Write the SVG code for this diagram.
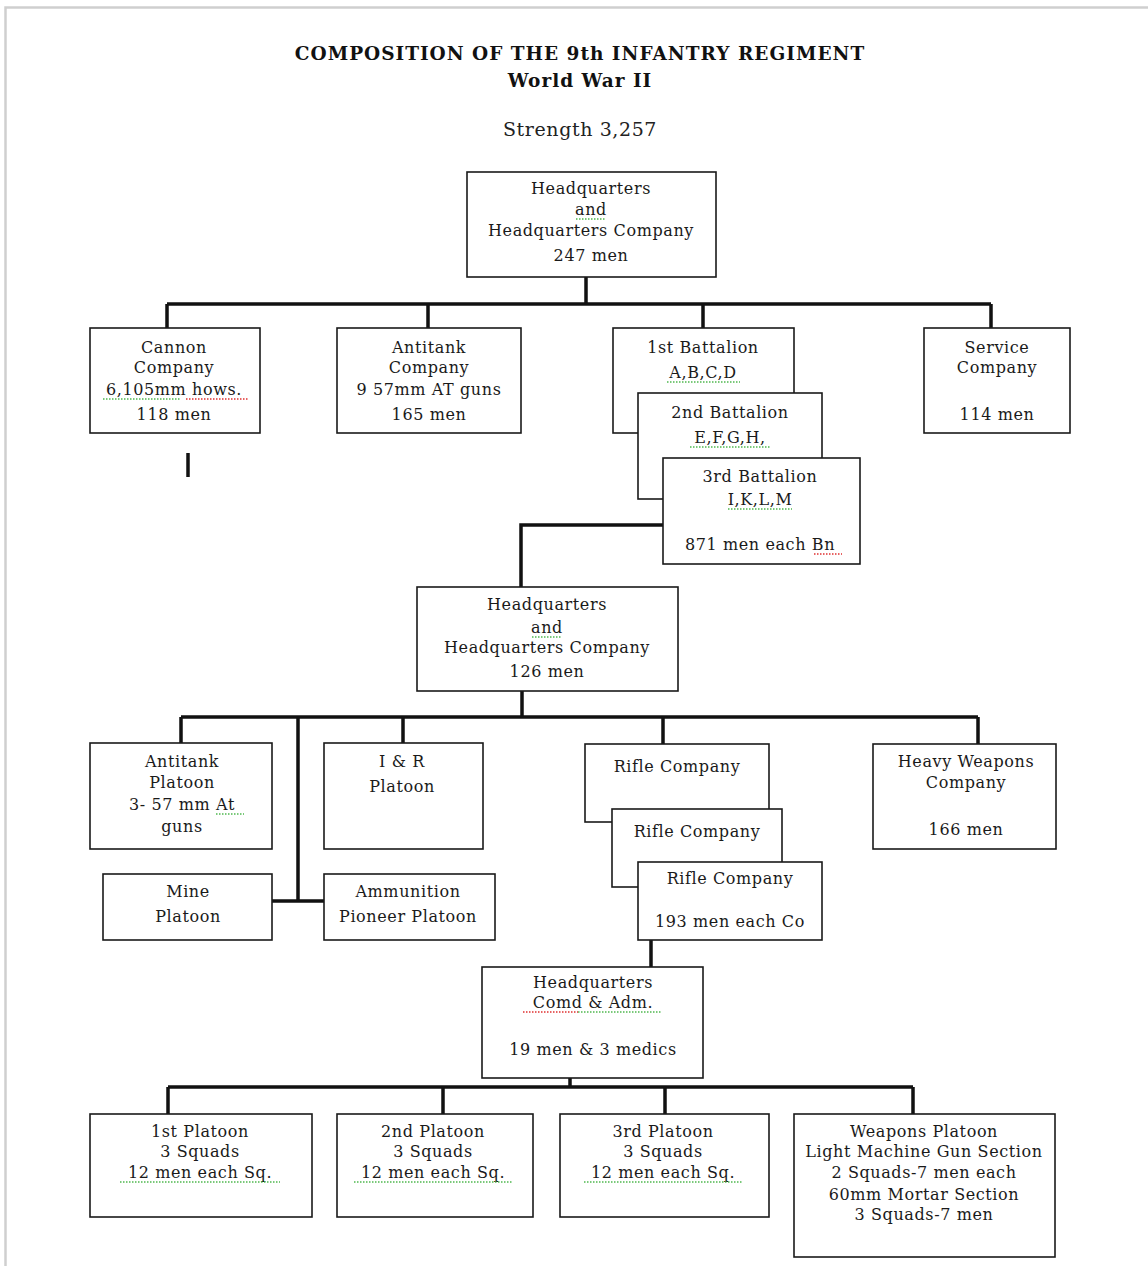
<svg xmlns="http://www.w3.org/2000/svg" width="1148" height="1266" viewBox="0 0 1148 1266">
<style>
.box{fill:#fff;stroke:#1a1a1a;stroke-width:1.6}
.t{font-family:"DejaVu Serif","Liberation Serif",serif;font-size:16px;letter-spacing:0.6px;fill:#1a1a1a;text-anchor:middle}
.title{font-family:"DejaVu Serif","Liberation Serif",serif;font-size:18.5px;letter-spacing:1px;font-weight:bold;fill:#111;text-anchor:middle}
.sub{font-family:"DejaVu Serif","Liberation Serif",serif;font-size:19px;letter-spacing:0.6px;fill:#222;text-anchor:middle}
.c{fill:none;stroke:#111;stroke-width:3.5}
.g{fill:none;stroke:#4fb84f;stroke-width:1.3;stroke-dasharray:1.5 1.5}
.r{fill:none;stroke:#e03030;stroke-width:1.3;stroke-dasharray:1.5 1.5}
</style>
<rect width="1148" height="1266" fill="#fff"/>
<path d="M5.5 1266 V7.5 H1148" fill="none" stroke="#cfcfcf" stroke-width="2.5"/>
<g id="title">
<text class="title" x="580" y="60">COMPOSITION OF THE 9th INFANTRY REGIMENT</text>
<text class="title" x="580" y="87">World War II</text>
<text class="sub" x="580" y="136">Strength 3,257</text>
</g>
<g id="connectors">
<path class="c" d="M586 277 V304 M167 304 H991 M167 304 V328 M428 304 V328 M703 304 V328 M991 304 V328"/>
<path class="c" d="M188 453 V477"/>
<path class="c" d="M663 525 H521 V588"/>
<path class="c" d="M522 691 V717 M181 717 H978 M181 717 V743 M403 717 V743 M663 717 V744 M978 717 V744 M298 717 V901 M272 901 H324"/>
<path class="c" d="M651 940 V967"/>
<path class="c" d="M570 1078 V1087 M168 1087 H913 M168 1087 V1114 M443 1087 V1114 M665 1087 V1114 M913 1087 V1114"/>
</g>
<g id="hq-regiment">
<rect class="box" x="467" y="172" width="249" height="105"/>
<text class="t" x="591" y="194">Headquarters</text>
<text class="t" x="591" y="215">and</text>
<text class="t" x="591" y="236">Headquarters Company</text>
<text class="t" x="591" y="261">247 men</text>
</g>
<g id="cannon-company">
<rect class="box" x="90" y="328" width="170" height="105"/>
<text class="t" x="174" y="353">Cannon</text>
<text class="t" x="174" y="373">Company</text>
<text class="t" x="174" y="395">6,105mm hows.</text>
<text class="t" x="174" y="420">118 men</text>
</g>
<g id="antitank-company">
<rect class="box" x="337" y="328" width="184" height="105"/>
<text class="t" x="429" y="353">Antitank</text>
<text class="t" x="429" y="373">Company</text>
<text class="t" x="429" y="395">9 57mm  AT guns</text>
<text class="t" x="429" y="420">165 men</text>
</g>
<g id="battalion-1">
<rect class="box" x="613" y="328" width="181" height="105"/>
<text class="t" x="703" y="353">1st Battalion</text>
<text class="t" x="703" y="378">A,B,C,D</text>
</g>
<g id="battalion-2">
<rect class="box" x="638" y="393" width="184" height="106"/>
<text class="t" x="730" y="418">2nd Battalion</text>
<text class="t" x="730" y="443">E,F,G,H,</text>
</g>
<g id="battalion-3">
<rect class="box" x="663" y="458" width="197" height="106"/>
<text class="t" x="760" y="482">3rd Battalion</text>
<text class="t" x="760" y="505">I,K,L,M</text>
<text class="t" x="760" y="550">871 men each Bn</text>
</g>
<g id="service-company">
<rect class="box" x="924" y="328" width="146" height="105"/>
<text class="t" x="997" y="353">Service</text>
<text class="t" x="997" y="373">Company</text>
<text class="t" x="997" y="420">114 men</text>
</g>
<g id="hq-battalion">
<rect class="box" x="417" y="587" width="261" height="104"/>
<text class="t" x="547" y="610">Headquarters</text>
<text class="t" x="547" y="633">and</text>
<text class="t" x="547" y="653">Headquarters Company</text>
<text class="t" x="547" y="677">126 men</text>
</g>
<g id="antitank-platoon">
<rect class="box" x="90" y="743" width="182" height="106"/>
<text class="t" x="182" y="767">Antitank</text>
<text class="t" x="182" y="788">Platoon</text>
<text class="t" x="182" y="810">3- 57 mm At</text>
<text class="t" x="182" y="832">guns</text>
</g>
<g id="ir-platoon">
<rect class="box" x="324" y="743" width="159" height="106"/>
<text class="t" x="402" y="767">I &amp; R</text>
<text class="t" x="402" y="792">Platoon</text>
</g>
<g id="mine-platoon">
<rect class="box" x="103" y="874" width="169" height="66"/>
<text class="t" x="188" y="897">Mine</text>
<text class="t" x="188" y="922">Platoon</text>
</g>
<g id="ammunition-pioneer-platoon">
<rect class="box" x="324" y="874" width="171" height="66"/>
<text class="t" x="408" y="897">Ammunition</text>
<text class="t" x="408" y="922">Pioneer Platoon</text>
</g>
<g id="rifle-company-1">
<rect class="box" x="585" y="744" width="184" height="78"/>
<text class="t" x="677" y="772">Rifle Company</text>
</g>
<g id="rifle-company-2">
<rect class="box" x="612" y="809" width="170" height="78"/>
<text class="t" x="697" y="837">Rifle Company</text>
</g>
<g id="rifle-company-3">
<rect class="box" x="638" y="862" width="184" height="78"/>
<text class="t" x="730" y="884">Rifle Company</text>
<text class="t" x="730" y="927">193 men each Co</text>
</g>
<g id="heavy-weapons-company">
<rect class="box" x="873" y="744" width="183" height="105"/>
<text class="t" x="966" y="767">Heavy Weapons</text>
<text class="t" x="966" y="788">Company</text>
<text class="t" x="966" y="835">166 men</text>
</g>
<g id="hq-company">
<rect class="box" x="482" y="967" width="221" height="111"/>
<text class="t" x="593" y="988">Headquarters</text>
<text class="t" x="593" y="1008">Comd &amp; Adm.</text>
<text class="t" x="593" y="1055">19 men &amp; 3 medics</text>
</g>
<g id="platoon-1">
<rect class="box" x="90" y="1114" width="222" height="103"/>
<text class="t" x="200" y="1137">1st Platoon</text>
<text class="t" x="200" y="1157">3 Squads</text>
<text class="t" x="200" y="1178">12 men each Sq.</text>
</g>
<g id="platoon-2">
<rect class="box" x="337" y="1114" width="196" height="103"/>
<text class="t" x="433" y="1137">2nd Platoon</text>
<text class="t" x="433" y="1157">3 Squads</text>
<text class="t" x="433" y="1178">12 men each Sq.</text>
</g>
<g id="platoon-3">
<rect class="box" x="560" y="1114" width="209" height="103"/>
<text class="t" x="663" y="1137">3rd Platoon</text>
<text class="t" x="663" y="1157">3 Squads</text>
<text class="t" x="663" y="1178">12 men each Sq.</text>
</g>
<g id="weapons-platoon">
<rect class="box" x="794" y="1114" width="261" height="143"/>
<text class="t" x="924" y="1137">Weapons Platoon</text>
<text class="t" x="924" y="1157">Light Machine Gun Section</text>
<text class="t" x="924" y="1178">2 Squads-7 men  each</text>
<text class="t" x="924" y="1200">60mm Mortar Section</text>
<text class="t" x="924" y="1220">3 Squads-7 men</text>
</g>
<g id="spelling-marks">
<path class="g" d="M576 219 H606"/>
<path class="g" d="M103 399 H180"/>
<path class="r" d="M186 399 H248"/>
<path class="g" d="M667 382 H740"/>
<path class="g" d="M690 447 H770"/>
<path class="g" d="M728 509 H792"/>
<path class="r" d="M814 554 H842"/>
<path class="g" d="M532 637 H562"/>
<path class="g" d="M216 814 H244"/>
<path class="r" d="M523 1012 H578"/>
<path class="g" d="M578 1012 H662"/>
<path class="g" d="M120 1182 H280"/>
<path class="g" d="M354 1182 H513"/>
<path class="g" d="M584 1182 H743"/>
</g>
</svg>
